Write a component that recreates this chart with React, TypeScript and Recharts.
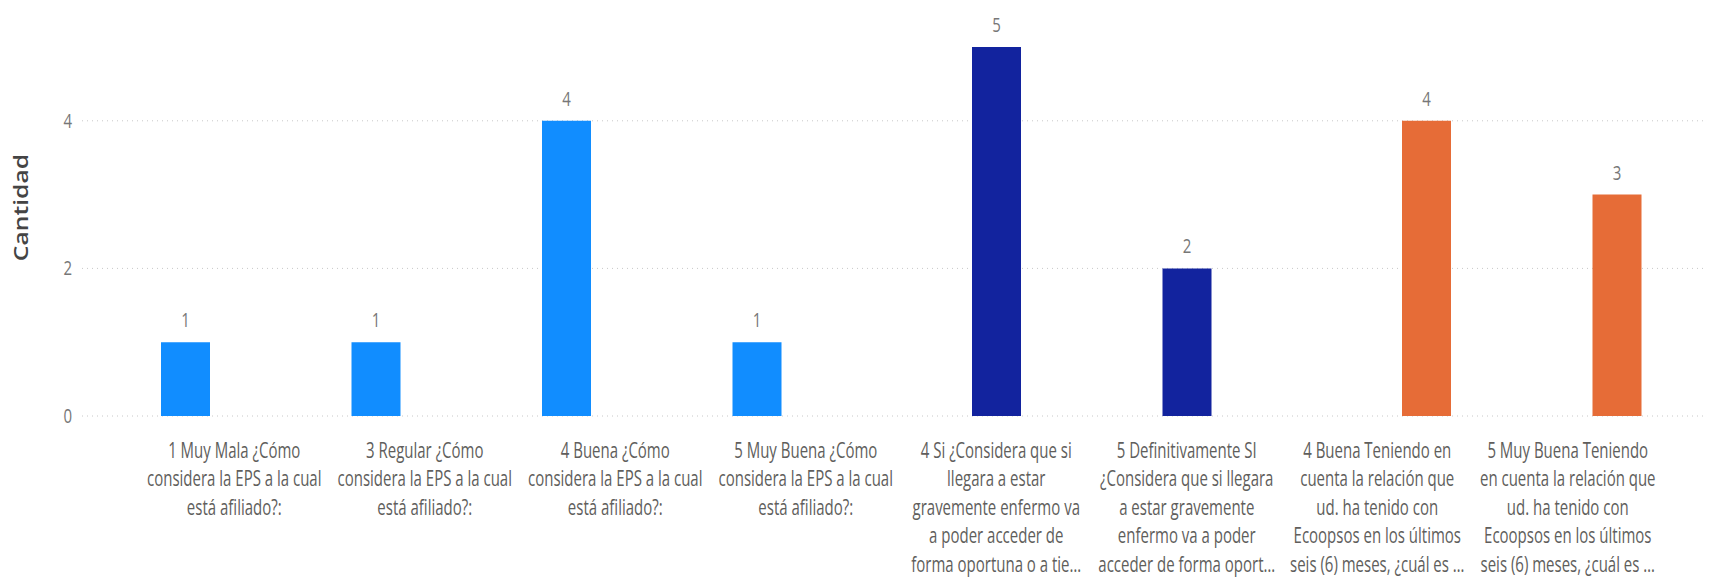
import React from 'react';
import { BarChart, Bar, XAxis, YAxis, CartesianGrid, LabelList } from 'recharts';

// Respuestas de la encuesta (cada pregunta es una serie, solo tiene valor en sus propias categorías)
const categories = [
  '1 Muy Mala ¿Cómo\nconsidera la EPS a la cual\nestá afiliado?:',
  '3 Regular ¿Cómo\nconsidera la EPS a la cual\nestá afiliado?:',
  '4 Buena ¿Cómo\nconsidera la EPS a la cual\nestá afiliado?:',
  '5 Muy Buena ¿Cómo\nconsidera la EPS a la cual\nestá afiliado?:',
  '4 Si ¿Considera que si\nllegara a estar\ngravemente enfermo va\na poder acceder de\nforma oportuna o a tie…',
  '5 Definitivamente SI\n¿Considera que si llegara\na estar gravemente\nenfermo va a poder\nacceder de forma oport…',
  '4 Buena Teniendo en\ncuenta la relación que\nud. ha tenido con\nEcoopsos en los últimos\nseis (6) meses, ¿cuál es …',
  '5 Muy Buena Teniendo\nen cuenta la relación que\nud. ha tenido con\nEcoopsos en los últimos\nseis (6) meses, ¿cuál es …',
];
const afiliacion = [1, 1, 4, 1, null, null, null, null];
const acceso = [null, null, null, null, 5, 2, null, null];
const relacion = [null, null, null, null, null, null, 4, 3];
const yTicks = [0, 2, 4];

const data = categories.map((cat, i) => ({
  cat,
  afiliacion: afiliacion[i],
  acceso: acceso[i],
  relacion: relacion[i],
}));

const STRETCH = 1.35;
const FONT = '"Open Sans", "Segoe UI", sans-serif';

const XTick = ({ x, y, payload }: any) => {
  const lines = String(payload.value).split('\n');
  const k = 1.4;
  return (
    <g transform={`translate(${x},${y}) scale(1,${k})`}>
      <text textAnchor="middle" fill="#605E5C" fontSize={15} fontFamily={FONT}>
        {lines.map((l, i) => (
          <tspan key={i} x={0} y={42 / k + (i * 28.4) / k}>{l}</tspan>
        ))}
      </text>
    </g>
  );
};

const YTick = ({ x, y, payload }: any) => (
  <g transform={`translate(${x - 10},${y}) scale(1,${STRETCH})`}>
    <text textAnchor="end" dy={5} fill="#777" fontSize={15} fontFamily={FONT}>{payload.value}</text>
  </g>
);

const YTitle = ({ viewBox }: any) => (
  <g transform={`translate(${viewBox.x + 28},${viewBox.y + viewBox.height / 2 - 24}) scale(1,1.3) rotate(-90)`}>
    <text textAnchor="middle" fill="#444" fontSize={19} fontWeight={600} fontFamily={FONT}>Cantidad</text>
  </g>
);

const ValueLabel = ({ x, y, width, value }: any) => {
  if (value == null) return null;
  return (
    <g transform={`translate(${x + width / 2},${y - 15}) scale(1,${STRETCH})`}>
      <text textAnchor="middle" fill="#777" fontSize={15} fontFamily={FONT}>{value}</text>
    </g>
  );
};

export default function App() {
  return (
    <div style={{ position: 'absolute', left: 0, top: 0, background: '#fff' }}>
      <BarChart
        width={1712}
        height={586}
        data={data}
        margin={{ top: 47, right: 9, left: 0, bottom: 0 }}
        barGap={0}
      >
        <CartesianGrid vertical={false} horizontalValues={yTicks} stroke="#c8c8c8" strokeDasharray="1 4" />
        <XAxis
          dataKey="cat"
          height={170}
          axisLine={false}
          tickLine={false}
          tickSize={0}
          tickMargin={0}
          interval={0}
          padding={{ left: 57, right: 40 }}
          tick={<XTick />}
        />
        <YAxis
          width={82}
          domain={[0, 5]}
          ticks={yTicks}
          axisLine={false}
          tickLine={false}
          tickSize={0}
          tickMargin={0}
          tick={<YTick />}
          label={<YTitle />}
        />
        <Bar dataKey="afiliacion" fill="#118DFF" barSize={49} isAnimationActive={false}>
          <LabelList dataKey="afiliacion" content={<ValueLabel />} />
        </Bar>
        <Bar dataKey="acceso" fill="#12239E" barSize={49} isAnimationActive={false}>
          <LabelList dataKey="acceso" content={<ValueLabel />} />
        </Bar>
        <Bar dataKey="relacion" fill="#E66C37" barSize={49} isAnimationActive={false}>
          <LabelList dataKey="relacion" content={<ValueLabel />} />
        </Bar>
      </BarChart>
    </div>
  );
}
